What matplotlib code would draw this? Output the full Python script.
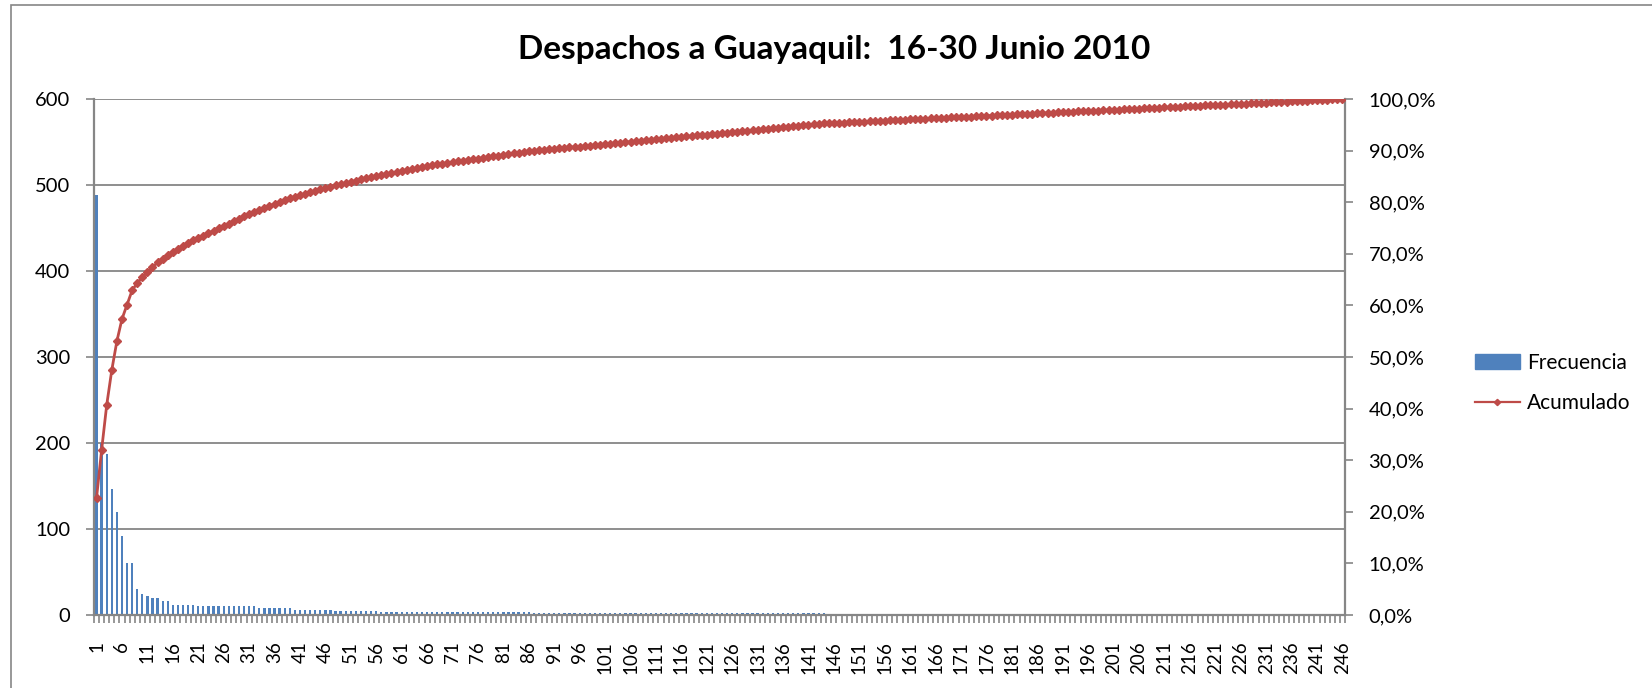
import matplotlib
matplotlib.use("Agg")
import numpy as np
import matplotlib.pyplot as plt
from matplotlib.patches import Patch, Rectangle
from matplotlib.lines import Line2D
from matplotlib.ticker import FuncFormatter, MultipleLocator

plt.rcParams["font.family"] = ["Lato", "DejaVu Sans"]

# Frecuencia por item (ordenada de mayor a menor)
frecuencia = [
    488, 200, 187, 146, 120, 92, 60, 60, 30, 24,   # 1-10
    22, 20, 20, 16, 16, 12, 12, 12, 12, 12,        # 11-20
    10, 10, 10, 10, 10, 10, 10, 10, 10, 10,        # 21-30
    10, 10, 8, 8, 8, 8, 8, 8, 8, 6,                # 31-40
    6, 6, 6, 6, 6, 6, 6, 5, 5, 5,                  # 41-50
    5, 5, 5, 5, 5, 5, 4, 4, 4, 4,                  # 51-60
    4, 4, 4, 4, 4, 4, 4, 4, 3, 3,                  # 61-70
    3, 3, 3, 3, 3, 3, 3, 3, 3, 3,                  # 71-80
    3, 3, 3, 3, 3, 3, 2, 2, 2, 2,                  # 81-90
    2, 2, 2, 2, 2, 2, 2, 2, 2, 2,                  # 91-100
    2, 2, 2, 2, 2, 2, 2, 2, 2, 2,                  # 101-110
    2, 2, 2, 2, 2, 2, 2, 2, 2, 2,                  # 111-120
    2, 2, 2, 2, 2, 2, 2, 2, 2, 2,                  # 121-130
    2, 2, 2, 2, 2, 2, 2, 2, 2, 2,                  # 131-140
    2, 2, 2, 2, 1, 1, 1, 1, 1, 1,                  # 141-150
    1, 1, 1, 1, 1, 1, 1, 1, 1, 1,                  # 151-160
    1, 1, 1, 1, 1, 1, 1, 1, 1, 1,                  # 161-170
    1, 1, 1, 1, 1, 1, 1, 1, 1, 1,                  # 171-180
    1, 1, 1, 1, 1, 1, 1, 1, 1, 1,                  # 181-190
    1, 1, 1, 1, 1, 1, 1, 1, 1, 1,                  # 191-200
    1, 1, 1, 1, 1, 1, 1, 1, 1, 1,                  # 201-210
    1, 1, 1, 1, 1, 1, 1, 1, 1, 1,                  # 211-220
    1, 1, 1, 1, 1, 1, 1, 1, 1, 1,                  # 221-230
    1, 1, 1, 1, 1, 1, 1, 1, 1, 1,                  # 231-240
    1, 1, 1, 1, 1, 1,                              # 241-246
]
items = np.arange(1, len(frecuencia) + 1)
etiquetas_x = [str(i) for i in range(1, 247, 5)]
ticks_izq = [0, 100, 200, 300, 400, 500, 600]

titulo = "Despachos a Guayaquil:  16-30 Junio 2010"

AZUL = "#4F81BD"
ROJO = "#BE4B48"
GRIS = "#868686"

frec = np.array(frecuencia, dtype=float)
acumulado = np.cumsum(frec) / frec.sum()

W, H = 1652, 688
fig = plt.figure(figsize=(W / 100, H / 100), dpi=100)
ax = fig.add_axes([94 / W, 1 - 615 / H, (1345 - 94) / W, (615 - 99) / H])

ax.bar(items, frec, width=0.45, color=AZUL, zorder=2)
ax.set_xlim(0.5, len(frecuencia) + 0.5)
ax.set_ylim(0, 600)
ax.set_yticks(ticks_izq)
ax.yaxis.grid(True, color=GRIS, linewidth=1.3, zorder=0)
ax.set_axisbelow(True)

ax.set_xticks([int(s) for s in etiquetas_x])
ax.set_xticklabels(etiquetas_x, rotation=90, fontsize=13.5)
ax.xaxis.set_minor_locator(MultipleLocator(1, offset=0.5))
ax.tick_params(axis="x", which="major", length=0, pad=19)
ax.tick_params(axis="x", which="minor", length=6, width=1.2, color=GRIS)
ax.tick_params(axis="y", length=6, width=1.2, color=GRIS, labelsize=14.5, pad=11)

for side in ["top", "right"]:
    ax.spines[side].set_visible(False)
for side in ["left", "bottom"]:
    ax.spines[side].set_color(GRIS)
    ax.spines[side].set_linewidth(1.6)

ax2 = ax.twinx()
ax2.plot(items, acumulado, color=ROJO, linewidth=2.0, marker="D", markersize=4.2,
         markeredgecolor=ROJO, markerfacecolor=ROJO, zorder=3)
ax2.set_ylim(0, 1)
ax2.yaxis.set_major_locator(MultipleLocator(0.1))
ax2.yaxis.set_major_formatter(FuncFormatter(lambda v, p: f"{v * 100:.1f}%".replace(".", ",")))
ax2.tick_params(axis="y", length=6, width=1.2, color=GRIS, labelsize=14.5, pad=11)
for side in ["top", "left", "bottom"]:
    ax2.spines[side].set_visible(False)
ax2.spines["right"].set_color(GRIS)
ax2.spines["right"].set_linewidth(1.6)

fig.text(834 / W, 1 - 50 / H, titulo, ha="center", va="center",
         fontsize=24, fontweight="bold")

handles = [
    Patch(facecolor=AZUL, edgecolor=AZUL),
    Line2D([], [], color=ROJO, linewidth=1.6, marker="D", markersize=3.2),
]
fig.legend(handles, ["Frecuencia", "Acumulado"], loc="center left",
           bbox_to_anchor=(1475 / W, 1 - 383 / H), frameon=False, fontsize=15,
           borderpad=0, handlelength=2.15, handletextpad=0.35, labelspacing=1.0,
           borderaxespad=0)

# borde del area del grafico
fig.patches.append(Rectangle((10.5 / W, -0.05), 1.2, 1.05 - 4.5 / H, transform=fig.transFigure,
                             fill=False, edgecolor=GRIS, linewidth=1.2))

fig.savefig("out.png", dpi=100)
